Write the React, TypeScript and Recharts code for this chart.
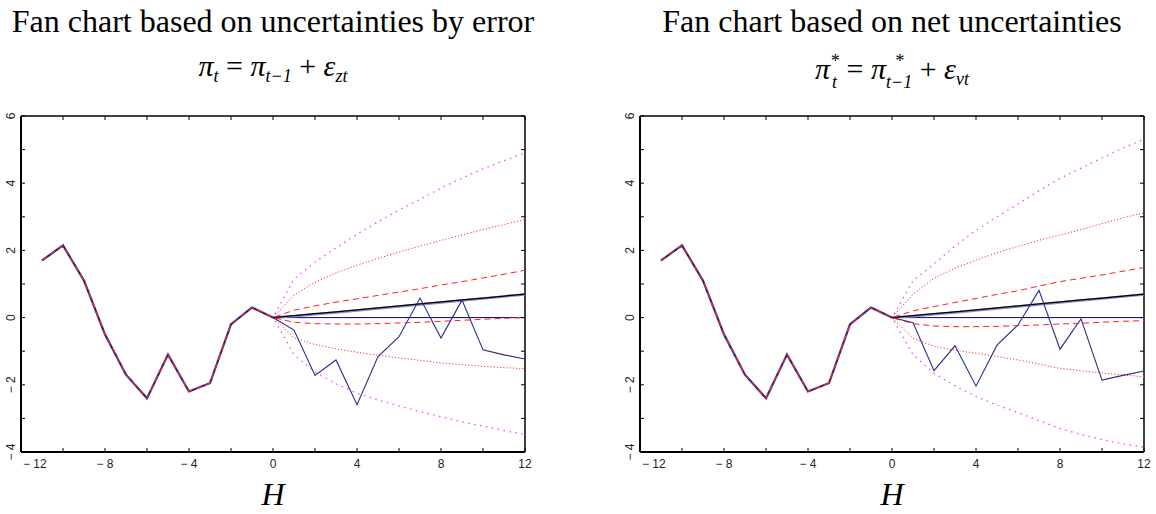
import React from "react";
import { LineChart, Line, XAxis, YAxis, ReferenceLine } from "recharts";

// horizon, history (h=-11..-1) and forecast paths (h=0..12)
const horizons = [-11, -10, -9, -8, -7, -6, -5, -4, -3, -2, -1, 0, 1, 2, 3, 4, 5, 6, 7, 8, 9, 10, 11, 12];
const history = [1.7, 2.15, 1.1, -0.5, -1.7, -2.4, -1.1, -2.2, -1.95, -0.2, 0.3];

const actualL = [0, -0.37, -1.72, -1.26, -2.59, -1.16, -0.57, 0.58, -0.61, 0.52, -0.96, -1.11, -1.23];
const meanL = [0, 0.06, 0.12, 0.17, 0.23, 0.29, 0.35, 0.41, 0.47, 0.53, 0.58, 0.64, 0.7];
const medianL = [0, 0.04, 0.1, 0.15, 0.21, 0.27, 0.33, 0.39, 0.45, 0.51, 0.57, 0.63, 0.69];
const inUpL = [0, 0.22, 0.35, 0.46, 0.56, 0.66, 0.76, 0.86, 0.97, 1.07, 1.18, 1.29, 1.41];
const inLoL = [0, -0.14, -0.18, -0.19, -0.19, -0.18, -0.16, -0.14, -0.11, -0.08, -0.05, -0.02, 0];
const midUpL = [0, 0.67, 1.05, 1.33, 1.56, 1.76, 1.95, 2.13, 2.3, 2.46, 2.62, 2.77, 2.92];
const midLoL = [0, -0.6, -0.8, -0.93, -1.03, -1.12, -1.2, -1.27, -1.35, -1.4, -1.45, -1.49, -1.52];
const outUpL = [0, 1.15, 1.65, 2.08, 2.48, 2.85, 3.2, 3.52, 3.85, 4.15, 4.43, 4.67, 4.9];
const outLoL = [0, -1.1, -1.62, -1.97, -2.25, -2.45, -2.63, -2.8, -2.95, -3.1, -3.23, -3.36, -3.48];

const actualR = [0, -0.15, -1.58, -0.84, -2.04, -0.82, -0.22, 0.81, -0.94, -0.04, -1.86, -1.72, -1.59];
const meanR = [0, 0.06, 0.12, 0.17, 0.23, 0.29, 0.35, 0.41, 0.47, 0.53, 0.58, 0.64, 0.7];
const medianR = [0, 0.04, 0.1, 0.15, 0.21, 0.27, 0.33, 0.39, 0.45, 0.51, 0.57, 0.63, 0.69];
const inUpR = [0, 0.2, 0.33, 0.45, 0.57, 0.69, 0.8, 0.94, 1.07, 1.17, 1.27, 1.38, 1.49];
const inLoR = [0, -0.18, -0.25, -0.27, -0.27, -0.26, -0.24, -0.22, -0.19, -0.17, -0.14, -0.11, -0.09];
const midUpR = [0, 0.7, 1.17, 1.47, 1.71, 1.93, 2.12, 2.3, 2.46, 2.62, 2.8, 2.97, 3.12];
const midLoR = [0, -0.62, -0.85, -0.97, -1.06, -1.16, -1.26, -1.38, -1.51, -1.58, -1.65, -1.71, -1.76];
const outUpR = [0, 1.1, 1.6, 2.13, 2.6, 3.0, 3.38, 3.78, 4.14, 4.45, 4.75, 5.05, 5.31];
const outLoR = [0, -1.1, -1.66, -2.03, -2.35, -2.6, -2.83, -3.07, -3.3, -3.48, -3.63, -3.76, -3.86];

const xTicks = [-12, -10, -8, -6, -4, -2, 0, 2, 4, 6, 8, 10, 12];
const yTicks = [-4, -3, -2, -1, 0, 1, 2, 3, 4, 5, 6];

const TOP = 116;
const BOTTOM = 452;

function buildRows(f: Record<string, number[]>) {
  return horizons.map((h, i) => {
    const row: Record<string, number> = { h };
    Object.keys(f).forEach((k) => {
      row[k] = i < history.length ? history[i] : f[k][i - history.length];
    });
    return row;
  });
}

const fmt = (v: number) => (v < 0 ? "\u2212 " + Math.abs(v) : String(v));
const tickFont = { fontFamily: "Liberation Sans, Arial, sans-serif", fontSize: 12, fill: "#222" };

function Panel({ rows, left, marginLeft, marginRight }: any) {
  const plotL = marginLeft + 21;
  const plotR = 578 - marginRight;

  const YTick = (p: any) => {
    const v = p.payload.value;
    const lx = plotL - 10;
    return (
      <g>
        <line x1={plotL} x2={plotL + 4} y1={p.y} y2={p.y} stroke="#000" />
        <line x1={plotR - 4} x2={plotR} y1={p.y} y2={p.y} stroke="#000" />
        {v % 2 === 0 && (
          <text x={lx} y={p.y} transform={`rotate(-90 ${lx} ${p.y})`} textAnchor="middle" dominantBaseline="central" {...tickFont}>
            {fmt(v)}
          </text>
        )}
      </g>
    );
  };

  const XTick = (p: any) => {
    const v = p.payload.value;
    const first = v === xTicks[0];
    return (
      <g>
        <line x1={p.x} x2={p.x} y1={BOTTOM - 4} y2={BOTTOM} stroke="#000" />
        <line x1={p.x} x2={p.x} y1={TOP} y2={TOP + 4} stroke="#000" />
        {v % 4 === 0 && (
          <text x={first ? p.x + 2 : p.x} y={BOTTOM + 12} textAnchor={first ? "start" : "middle"} dominantBaseline="central" {...tickFont}>
            {fmt(v)}
          </text>
        )}
      </g>
    );
  };

  return (
    <div style={{ position: "absolute", left, top: 0 }}>
      <LineChart width={578} height={514} data={rows} margin={{ top: TOP, right: marginRight, bottom: 42, left: marginLeft }}>
        <XAxis dataKey="h" type="number" domain={[-12, 12]} ticks={xTicks} interval={0} height={20} tickLine={false} axisLine={{ stroke: "#000", strokeWidth: 2 }} tick={XTick} />
        <YAxis type="number" domain={[-4, 6]} ticks={yTicks} interval={0} width={21} tickLine={false} axisLine={{ stroke: "#000", strokeWidth: 2 }} tick={YTick} />
        <ReferenceLine y={6} stroke="#000" strokeWidth={1.5} />
        <ReferenceLine x={12} stroke="#000" strokeWidth={1.5} />
        <ReferenceLine segment={[{ x: 0, y: 0 }, { x: 12, y: 0 }]} stroke="#000080" strokeWidth={1} />
        <Line dataKey="outUp" stroke="#ff40ff" strokeWidth={1.3} strokeDasharray="1.5 4.5" dot={false} isAnimationActive={false} />
        <Line dataKey="outLo" stroke="#ff40ff" strokeWidth={1.3} strokeDasharray="1.5 4.5" dot={false} isAnimationActive={false} />
        <Line dataKey="midUp" stroke="#ff3030" strokeWidth={1} strokeDasharray="1.2 2" dot={false} isAnimationActive={false} />
        <Line dataKey="midLo" stroke="#ff3030" strokeWidth={1} strokeDasharray="1.2 2" dot={false} isAnimationActive={false} />
        <Line dataKey="median" stroke="#8a8ac8" strokeWidth={2.5} dot={false} isAnimationActive={false} />
        <Line dataKey="mean" stroke="#000" strokeWidth={1.3} dot={false} isAnimationActive={false} />
        <Line dataKey="actual" stroke="#2a2a8a" strokeWidth={1.1} dot={false} isAnimationActive={false} />
        <Line dataKey="inUp" stroke="#ff2020" strokeWidth={1} strokeDasharray="6 4" dot={false} isAnimationActive={false} />
        <Line dataKey="inLo" stroke="#ff2020" strokeWidth={1} strokeDasharray="6 4" dot={false} isAnimationActive={false} />
      </LineChart>
    </div>
  );
}

const serif = "Liberation Serif, Times New Roman, serif";

function Sub({ children }: any) {
  return <span style={{ fontSize: "0.6em", verticalAlign: "-0.35em", fontStyle: "italic" }}>{children}</span>;
}

function SupSub({ sup, sub }: any) {
  return (
    <span style={{ display: "inline-block", fontSize: "0.6em", lineHeight: 1.15, verticalAlign: "-0.5em", fontStyle: "italic" }}>
      <span style={{ display: "block" }}>{sup}</span>
      <span style={{ display: "block" }}>{sub}</span>
    </span>
  );
}

function Heading({ center, title, formula }: any) {
  return (
    <>
      <div style={{ position: "absolute", left: center - 300, width: 600, top: 5, textAlign: "center", fontFamily: serif, fontSize: 32, lineHeight: 1 }}>{title}</div>
      <div style={{ position: "absolute", left: center - 300, width: 600, top: 51, textAlign: "center", fontFamily: serif, fontSize: 30, lineHeight: 1 }}>{formula}</div>
      <div style={{ position: "absolute", left: center - 50, width: 100, top: 478, textAlign: "center", fontFamily: serif, fontSize: 32, fontStyle: "italic", lineHeight: 1 }}>H</div>
    </>
  );
}

export default function App() {
  const rowsL = buildRows({ actual: actualL, mean: meanL, median: medianL, inUp: inUpL, inLo: inLoL, midUp: midUpL, midLo: midLoL, outUp: outUpL, outLo: outLoL });
  const rowsR = buildRows({ actual: actualR, mean: meanR, median: medianR, inUp: inUpR, inLo: inLoR, midUp: midUpR, midLo: midLoR, outUp: outUpR, outLo: outLoR });

  return (
    <div style={{ position: "absolute", left: 0, top: 0, width: 1156, height: 514, background: "#fff", overflow: "hidden" }}>
      <Panel rows={rowsL} left={0} marginLeft={0} marginRight={53} />
      <Panel rows={rowsR} left={578} marginLeft={41} marginRight={12} />
      <Heading
        center={273}
        title="Fan chart based on uncertainties by error"
        formula={
          <span>
            <i>π</i><Sub>t</Sub> = <i>π</i><Sub>t−1</Sub> + <i>ε</i><Sub>zt</Sub>
          </span>
        }
      />
      <Heading
        center={892}
        title="Fan chart based on net uncertainties"
        formula={
          <span>
            <i>π</i><SupSub sup="*" sub="t" /> = <i>π</i><SupSub sup="*" sub="t−1" /> + <i>ε</i><Sub>vt</Sub>
          </span>
        }
      />
    </div>
  );
}
